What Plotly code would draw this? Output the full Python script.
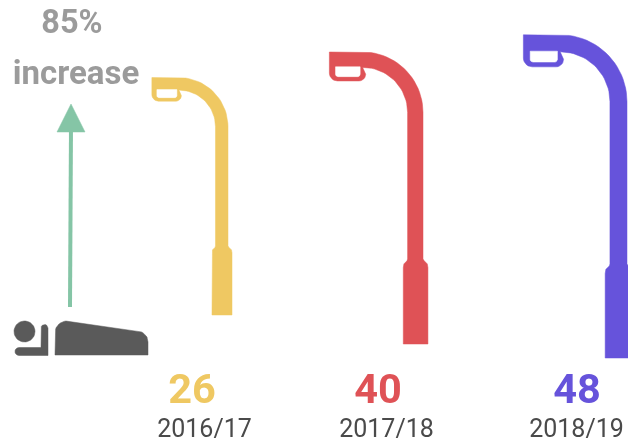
"""Street-lamp pictogram: lamps by year, with a sleeper icon and an 85% increase arrow."""

import numpy as np
import plotly.graph_objects as go

# ── Data ────────────────────────────────────────────────────────────────────
YEARS = ["2016/17", "2017/18", "2018/19"]
VALUES = [26, 40, 48]
INCREASE_LABEL = ["85%", "increase"]

# ── Styling / placement ─────────────────────────────────────────────────────
LAMP_COLORS = ["#EFC862", "#DF5256", "#6653DB"]
POLE_RIGHT = [228, 423, 627]
LAMP_BOTTOM = [315, 344, 358]
VALUE_X = [192, 378, 577]
YEAR_X = [204.5, 386.5, 576.5]
ARROW_COLOR = "#85C5A6"
ICON_COLOR = "#5A5A5A"
GREY_TEXT = "#9B9B9B"
YEAR_TEXT = "#4A4A4A"


def arc(cx, cy, r, start, end, n=24):
    a = np.radians(np.linspace(start, end, n))
    return list(cx + r * np.cos(a)), list(cy + r * np.sin(a))


def polygon(*parts):
    xs, ys = [], []
    for px, py in parts:
        xs += list(px)
        ys += list(py)
    return xs + xs[:1], ys + ys[:1]


def add_shape(fig, xs, ys, color):
    fig.add_trace(go.Scatter(
        x=xs, y=ys, mode="lines", fill="toself", fillcolor=color,
        line=dict(color=color, width=0.5), hoverinfo="skip", showlegend=False,
    ))


def add_lamp(fig, value, right, bottom, color):
    # outline is drawn in units of the smallest lamp, (0, 0) = foot of the pole's right edge
    s = (3.9 * value + 136) / 237
    h = -237
    outer = arc(-49, h + 49, 49, -90, 0)
    inner = arc(-49, h + 49, 36.5, 0, -90)
    cup_r = arc(-52, h + 18, 5.5, 0, 90, 8)
    cup_l = arc(-69.5, h + 17, 6.5, 90, 180, 8)
    xs, ys = polygon(
        ([-76], [h]),
        outer,
        ([0, 1, 3.5, 4, 4, -16, -16, -15.5, -13, -12.5],
         [-69, -67.5, -65, -62, 0, 0, -62, -65, -67.5, -69]),
        inner,
        cup_r,
        cup_l,
    )
    add_shape(fig, [right + s * x for x in xs], [bottom + s * y for y in ys], color)
    hx, hy = polygon(
        ([-71, -51], [h + 12, h + 12]),
        arc(-53, h + 18, 2, 0, 90, 5),
        arc(-69, h + 18, 2, 90, 180, 5),
    )
    add_shape(fig, [right + s * x for x in hx], [bottom + s * y for y in hy], "#FFFFFF")


def add_text(fig, x, y, text, size, color, bold=True):
    fig.add_trace(go.Scatter(
        x=[x], y=[y], mode="text", text=[f"<b>{text}</b>" if bold else text],
        textposition="middle center",
        textfont=dict(family="Roboto", size=size, color=color),
        hoverinfo="skip", showlegend=False,
    ))


fig = go.Figure()

for i, v in enumerate(VALUES):
    add_lamp(fig, v, POLE_RIGHT[i], LAMP_BOTTOM[i], LAMP_COLORS[i])
    add_text(fig, VALUE_X[i], 392.5, str(v), 41.5, LAMP_COLORS[i])
    add_text(fig, YEAR_X[i], 431, YEARS[i], 25, YEAR_TEXT, bold=False)

add_text(fig, 72, 25, INCREASE_LABEL[0], 32.5, GREY_TEXT)
add_text(fig, 76, 76, INCREASE_LABEL[1], 33, GREY_TEXT)

# arrow
fig.add_trace(go.Scatter(
    x=[70, 71], y=[307, 125], mode="lines", line=dict(color=ARROW_COLOR, width=4),
    hoverinfo="skip", showlegend=False,
))
add_shape(fig, [57, 71, 85, 57], [132, 104, 132, 132], ARROW_COLOR)

# sleeper icon
cx, cy = arc(24.5, 331.5, 10.5, 0, 360, 40)
add_shape(fig, cx, cy, ICON_COLOR)
arm_x, arm_y = polygon(
    arc(19, 351.5, 4, 90, 270, 8),
    ([41], [347.5]),
    arc(44.5, 328, 3.5, 180, 360, 8),
    ([48, 48], [350, 355.5]),
)
add_shape(fig, arm_x, arm_y, ICON_COLOR)
body_x, body_y = polygon(
    ([55], [355]),
    arc(67, 333, 12, 180, 265, 10),
    arc(137, 342, 11, -75, 0, 10),
    ([148], [355]),
)
add_shape(fig, body_x, body_y, ICON_COLOR)

fig.update_layout(
    width=628,
    height=443,
    margin=dict(l=0, r=0, t=0, b=0),
    paper_bgcolor="#FFFFFF",
    plot_bgcolor="#FFFFFF",
    showlegend=False,
    xaxis=dict(range=[0, 628], visible=False, fixedrange=True),
    yaxis=dict(range=[443, 0], visible=False, fixedrange=True),
)

fig.write_html(
    "out.html",
    config=dict(displayModeBar=False),
    post_script=(
        "document.body.style.margin='0';"
        "document.documentElement.style.overflow='hidden';"
        "document.querySelector('.plotly-graph-div').style.filter='blur(0.5px)';"
    ),
)
